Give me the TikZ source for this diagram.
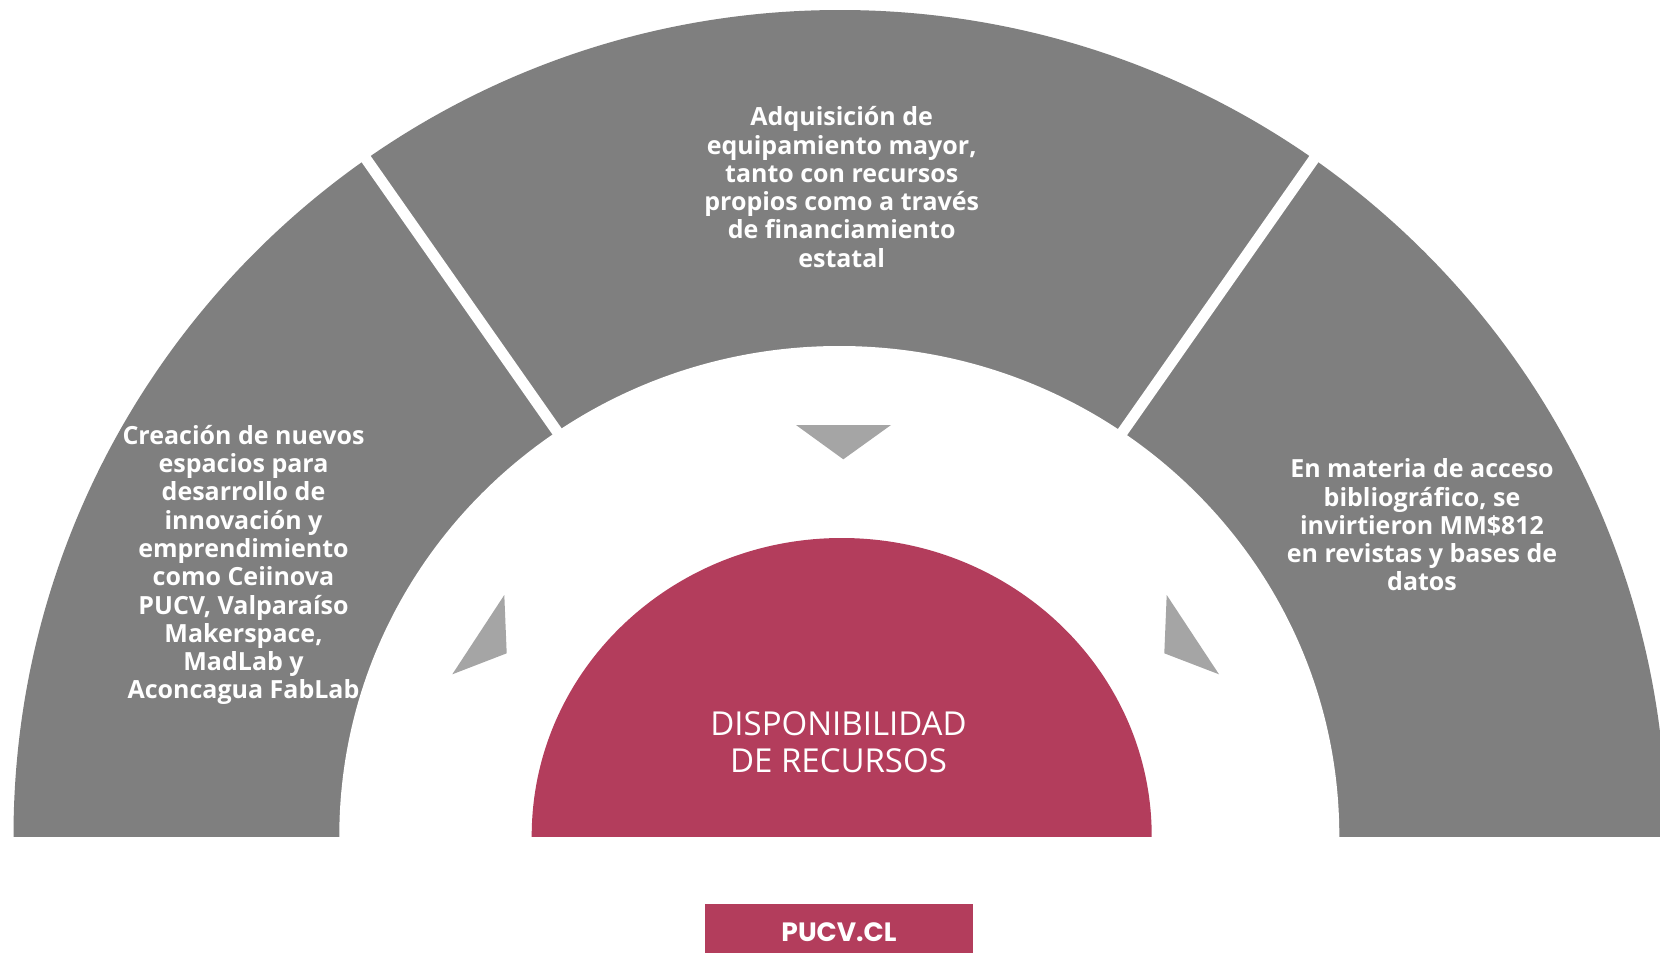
\documentclass[tikz,border=0pt]{standalone}
\usepackage{fontspec}
\setmainfont{Open Sans}
\newfontfamily\pucvfont{Poppins}
\definecolor{segGray}{HTML}{7F7F7F}
\definecolor{triGray}{HTML}{A5A5A5}
\definecolor{pucvRed}{HTML}{B33D5C}
\begin{document}
\begin{tikzpicture}[x=1pt,y=-1pt,
  seglabel/.style={text=white,font=\bfseries\fontsize{25}{28.3}\selectfont,align=center,inner sep=0pt},
  corelabel/.style={text=white,font=\fontsize{33}{37}\selectfont,align=center,inner sep=0pt},
  gapline/.style={white,line width=11pt},
  tri/.style={fill=triGray}]
\useasboundingbox (0,0) rectangle (1660,953);
\fill[white] (0,0) rectangle (1660,953);
\begin{scope}
  \clip (0,0) rectangle (1660,836);
  \fill[segGray] (840,836) ellipse [x radius=826.5, y radius=826];
  \fill[white] (839.3,836) ellipse [x radius=500, y radius=490];
  \coordinate (gl1) at (582,467);
  \coordinate (gl2) at (324,99);
  \coordinate (gr1) at (1098,467);
  \coordinate (gr2) at (1356,99);
  \draw[gapline] (gl1) -- (gl2);
  \draw[gapline] (gr1) -- (gr2);
  \fill[pucvRed] (841.7,836) ellipse [x radius=310, y radius=298];
\end{scope}
\fill[tri] (796,425) -- (891,425) -- (843.3,459.3) -- cycle;
\fill[tri] (504.3,595) -- (506.7,653.3) -- (452.3,674.3) -- cycle;
\fill[tri] (1166.7,595) -- (1164.3,653.3) -- (1219,674.3) -- cycle;
\node[seglabel] (toptext) at (841.7,187) {Adquisición de\\equipamiento mayor,\\tanto con recursos\\propios como a través\\de financiamiento\\estatal};
\node[seglabel] (lefttext) at (243.5,565) {Creación de nuevos\\espacios para\\desarrollo de\\innovación y\\emprendimiento\\como Ceiinova\\PUCV, Valparaíso\\Makerspace,\\MadLab y\\Aconcagua FabLab};
\node[seglabel] (righttext) at (1422,525) {En materia de acceso\\bibliográfico, se\\invirtieron MM\$812\\en revistas y bases de\\datos};
\node[corelabel] (core) at (838.5,742.5) {DISPONIBILIDAD\\DE RECURSOS};
\node[fill=pucvRed,minimum width=268pt,minimum height=49pt,inner sep=0pt] (pucvbox) at (839,928.5) {};
\node[text=white,font=\pucvfont\bfseries\fontsize{26.5}{30}\selectfont,inner sep=0pt] (pucvtext) at (839,932) {PUCV.CL};
\end{tikzpicture}
\end{document}
